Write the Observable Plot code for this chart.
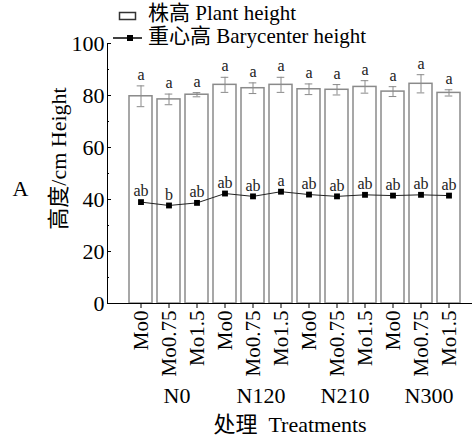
<!DOCTYPE html>
<html><head><meta charset="utf-8">
<script src="https://cdn.jsdelivr.net/npm/d3@7"></script>
<script src="https://cdn.jsdelivr.net/npm/@observablehq/plot@0.6"></script>
<style>
body{margin:0;background:#fff;}
#wrap{position:relative;width:472px;height:437px;font-family:"Liberation Serif","Noto Sans CJK SC",serif;}
#legend{position:absolute;left:0;top:0;}
#wrap g[aria-label="x-axis tick label"]{font-size:21px;}
#wrap g[aria-label="y-axis tick label"]{font-size:22px;}
</style></head><body>
<div id="wrap"></div>
<script>
const nLevels = ["N0","N120","N210","N300"];
const moLevels = ["Mo0","Mo0.75","Mo1.5"];
const plantHeight = [79.7,78.5,80.3,84.1,82.8,84.1,82.4,82.2,83.3,81.5,84.5,81.0];
const plantErr    = [4.0,2.05,0.8,2.9,2.05,2.9,2.05,2.0,2.4,1.9,3.5,1.2];
const plantLetters = ["a","a","a","a","a","a","a","a","a","a","a","a"];
const baryHeight  = [39.0,37.7,38.7,42.3,41.2,43.0,41.9,41.2,41.8,41.5,41.8,41.5];
const baryLetters = ["ab","b","ab","ab","ab","a","ab","ab","ab","ab","ab","ab"];
const yTicks = [0,20,40,60,80,100];
const yMinorTicks = [10,30,50,70,90];
const yLabel = "高度/cm Height";
const xLabel = "处理  Treatments";
const panelLabel = "A";
const legendLabels = ["株高 Plant height","重心高 Barycenter height"];

const keys = [];
nLevels.forEach(n => moLevels.forEach(m => keys.push(n + "|" + m)));
const data = keys.map((k, i) => ({
  key: k, plant: plantHeight[i], err: plantErr[i], lo: plantHeight[i] - plantErr[i],
  hi: plantHeight[i] + plantErr[i], pl: plantLetters[i], bary: baryHeight[i], bl: baryLetters[i]
}));
const groups = nLevels.map(n => ({key: n + "|" + moLevels[1], label: n}));

const serif = "Liberation Serif, Noto Sans CJK SC, serif";
const chart = Plot.plot({
  width: 472, height: 437,
  marginLeft: 107, marginRight: 0, marginTop: 43, marginBottom: 134,
  style: {fontFamily: serif, fontSize: "22px", background: "white", color: "black"},
  x: {type: "band", domain: keys, padding: 0.19, insetLeft: 11.5, insetRight: 1.2},
  y: {domain: [0, 100]},
  marks: [
    Plot.barY(data, {x: "key", y: "plant", fill: "white", stroke: "#8a8a8a", strokeWidth: 1.5}),
    Plot.ruleX(data, {x: "key", y1: "lo", y2: "hi", stroke: "#8a8a8a", strokeWidth: 1}),
    Plot.tickY(data, {x: "key", y: "lo", stroke: "#8a8a8a", insetLeft: 7.7, insetRight: 7.7}),
    Plot.tickY(data, {x: "key", y: "hi", stroke: "#8a8a8a", insetLeft: 7.7, insetRight: 7.7}),
    Plot.text(data, {x: "key", y: "hi", text: "pl", dy: -11, fontSize: 16, fill: "#222"}),
    Plot.line(data, {x: "key", y: "bary", stroke: "#222", strokeWidth: 1}),
    Plot.dot(data, {x: "key", y: "bary", symbol: "square", r: 3.3, fill: "black", stroke: "none"}),
    Plot.text(data, {x: "key", y: "bary", text: "bl", dy: -11, fontSize: 16, fill: "#222"}),
    Plot.ruleY([0], {stroke: "black", strokeWidth: 1}),
    Plot.frame({anchor: "left", stroke: "black"}),
    Plot.axisY({ticks: yTicks, tickSize: 0, tickPadding: 3, label: null, fontSize: 22}),
    Plot.axisY({ticks: yTicks, tickSize: 4, dx: 4, fill: "none", label: null}),
    Plot.axisY({ticks: yMinorTicks, tickSize: 2, dx: 2, fill: "none", label: null}),
    Plot.axisX({tickSize: 5, tickPadding: 2, tickRotate: -90, tickFormat: k => k.split("|")[1], label: null, fontSize: 21}),
    Plot.text(groups, {x: "key", text: "label", frameAnchor: "bottom", dy: 99, dx: 8, fontSize: 22}),
    Plot.text([xLabel], {text: d => d, frameAnchor: "bottom", dy: 128, fontSize: 22}),
    Plot.text([yLabel], {text: d => d, frameAnchor: "left", textAnchor: "middle", rotate: -90, dx: -49, dy: -15, fontSize: 22}),
    Plot.text([panelLabel], {text: d => d, frameAnchor: "left", textAnchor: "middle", dx: -87, dy: 15, fontSize: 22})
  ]
});
const wrap = document.getElementById("wrap");
wrap.appendChild(chart);

const ns = "http://www.w3.org/2000/svg";
const leg = document.createElementNS(ns, "svg");
leg.setAttribute("id", "legend");
leg.setAttribute("width", 472); leg.setAttribute("height", 50);
leg.innerHTML = `
<rect x="119.5" y="12.5" width="16" height="7" fill="white" stroke="#333" stroke-width="1.5"/>
<text x="148" y="15" dominant-baseline="middle" font-size="21" font-family="${serif}">${legendLabels[0]}</text>
<line x1="113" x2="142" y1="38" y2="38" stroke="black" stroke-width="1.5"/>
<rect x="127" y="35" width="6" height="6" fill="black"/>
<text x="148" y="38" dominant-baseline="middle" font-size="21" font-family="${serif}">${legendLabels[1]}</text>`;
wrap.appendChild(leg);
</script></body></html>
